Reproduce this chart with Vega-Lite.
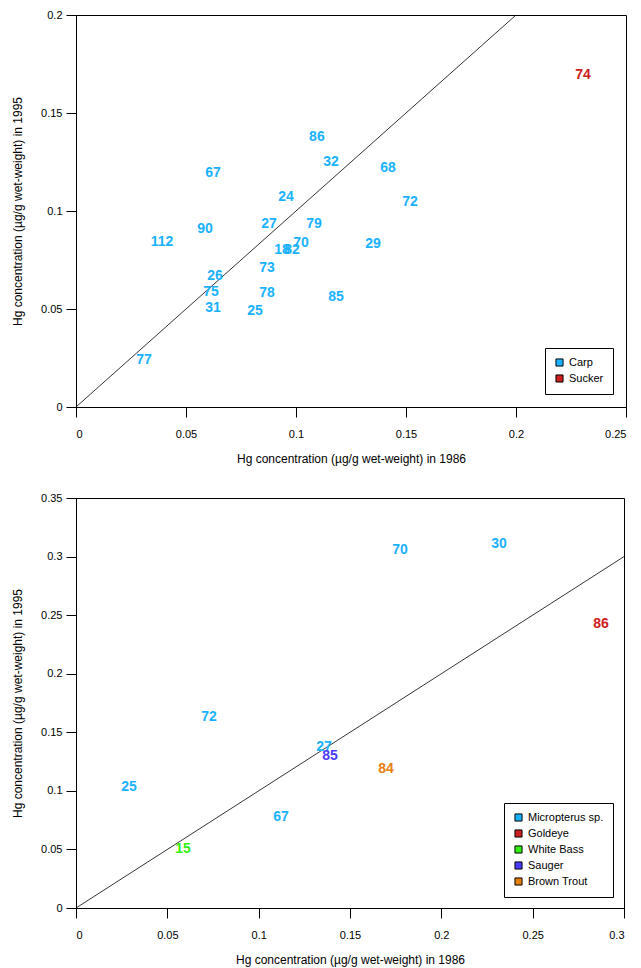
{
  "$schema": "https://vega.github.io/schema/vega-lite/v6.json",
  "background": "white",
  "padding": {"left": 11, "top": 8, "right": 5, "bottom": 5},
  "spacing": 26,
  "config": {
    "font": "Liberation Sans",
    "view": {"stroke": "black", "strokeWidth": 1},
    "axis": {
      "grid": false,
      "domainColor": "black",
      "tickColor": "black",
      "labelColor": "black",
      "titleColor": "black",
      "labelFont": "Liberation Sans",
      "titleFont": "Liberation Sans",
      "labelFontSize": 11,
      "titleFontSize": 12,
      "titleFontWeight": "normal",
      "tickSize": 10,
      "format": "~g"
    },
    "axisX": {"labelPadding": 11, "titlePadding": 14},
    "axisY": {"labelPadding": 4, "titlePadding": 16},
    "legend": {
      "strokeColor": "black",
      "padding": 9,
      "symbolType": "square",
      "symbolSize": 50,
      "symbolStrokeColor": "black",
      "symbolStrokeWidth": 1,
      "labelFont": "Liberation Sans",
      "labelFontSize": 11,
      "labelColor": "black",
      "rowPadding": 3,
      "fillColor": "white"
    }
  },
  "resolve": {"scale": {"color": "independent"}, "legend": {"color": "independent"}},
  "vconcat": [
    {
      "width": 550,
      "height": 392,
      "layer": [
        {
          "data": {"values": [{"x": 0, "y": 0}, {"x": 0.2, "y": 0.2}]},
          "mark": {"type": "line", "color": "black", "strokeWidth": 0.8},
          "encoding": {
            "x": {"field": "x", "type": "quantitative"},
            "y": {"field": "y", "type": "quantitative"}
          }
        },
        {
          "data": {"values": [
            {"id": "86", "species": "Carp", "hg1986": 0.1095, "hg1995": 0.1378},
            {"id": "32", "species": "Carp", "hg1986": 0.1159, "hg1995": 0.125},
            {"id": "68", "species": "Carp", "hg1986": 0.1418, "hg1995": 0.122},
            {"id": "67", "species": "Carp", "hg1986": 0.0623, "hg1995": 0.1194},
            {"id": "24", "species": "Carp", "hg1986": 0.0955, "hg1995": 0.107},
            {"id": "72", "species": "Carp", "hg1986": 0.1518, "hg1995": 0.1046},
            {"id": "27", "species": "Carp", "hg1986": 0.0877, "hg1995": 0.0934},
            {"id": "79", "species": "Carp", "hg1986": 0.1082, "hg1995": 0.0934},
            {"id": "90", "species": "Carp", "hg1986": 0.0586, "hg1995": 0.0908},
            {"id": "112", "species": "Carp", "hg1986": 0.0391, "hg1995": 0.0842},
            {"id": "70", "species": "Carp", "hg1986": 0.1023, "hg1995": 0.0837},
            {"id": "29", "species": "Carp", "hg1986": 0.135, "hg1995": 0.0832},
            {"id": "18", "species": "Carp", "hg1986": 0.0936, "hg1995": 0.0801},
            {"id": "82", "species": "Carp", "hg1986": 0.0982, "hg1995": 0.0801},
            {"id": "73", "species": "Carp", "hg1986": 0.0868, "hg1995": 0.0709},
            {"id": "26", "species": "Carp", "hg1986": 0.0632, "hg1995": 0.0668},
            {"id": "75", "species": "Carp", "hg1986": 0.0614, "hg1995": 0.0587},
            {"id": "78", "species": "Carp", "hg1986": 0.0868, "hg1995": 0.0582},
            {"id": "85", "species": "Carp", "hg1986": 0.1182, "hg1995": 0.0561},
            {"id": "31", "species": "Carp", "hg1986": 0.0623, "hg1995": 0.0505},
            {"id": "25", "species": "Carp", "hg1986": 0.0814, "hg1995": 0.049},
            {"id": "77", "species": "Carp", "hg1986": 0.0309, "hg1995": 0.024},
            {"id": "74", "species": "Sucker", "hg1986": 0.2305, "hg1995": 0.1694}
          ]},
          "mark": {"type": "text", "fontWeight": "bold", "fontSize": 14, "align": "center", "baseline": "middle"},
          "encoding": {
            "x": {"field": "hg1986", "type": "quantitative", "scale": {"domain": [0, 0.25], "nice": false},
                  "axis": {"values": [0, 0.05, 0.1, 0.15, 0.2, 0.25], "title": "Hg concentration (µg/g wet-weight) in 1986"}},
            "y": {"field": "hg1995", "type": "quantitative", "scale": {"domain": [0, 0.2], "nice": false},
                  "axis": {"values": [0, 0.05, 0.1, 0.15, 0.2], "title": "Hg concentration (µg/g wet-weight) in 1995"}},
            "text": {"field": "id", "type": "nominal"},
            "color": {"field": "species", "type": "nominal",
                      "scale": {"domain": ["Carp", "Sucker"], "range": ["#1AB2FF", "#CC2020"]},
                      "legend": {"title": null, "orient": "bottom-right", "offset": 13}}
          }
        }
      ]
    },
    {
      "width": 548,
      "height": 410,
      "layer": [
        {
          "data": {"values": [{"x": 0, "y": 0}, {"x": 0.3, "y": 0.3}]},
          "mark": {"type": "line", "color": "black", "strokeWidth": 0.8},
          "encoding": {
            "x": {"field": "x", "type": "quantitative"},
            "y": {"field": "y", "type": "quantitative"}
          }
        },
        {
          "data": {"values": [
            {"id": "70", "species": "Micropterus sp.", "hg1986": 0.1774, "hg1995": 0.3056},
            {"id": "30", "species": "Micropterus sp.", "hg1986": 0.2316, "hg1995": 0.3107},
            {"id": "72", "species": "Micropterus sp.", "hg1986": 0.0728, "hg1995": 0.163},
            {"id": "27", "species": "Micropterus sp.", "hg1986": 0.1358, "hg1995": 0.1374},
            {"id": "25", "species": "Micropterus sp.", "hg1986": 0.029, "hg1995": 0.1033},
            {"id": "67", "species": "Micropterus sp.", "hg1986": 0.1122, "hg1995": 0.0777},
            {"id": "86", "species": "Goldeye", "hg1986": 0.2874, "hg1995": 0.2424},
            {"id": "15", "species": "White Bass", "hg1986": 0.0586, "hg1995": 0.0504},
            {"id": "85", "species": "Sauger", "hg1986": 0.139, "hg1995": 0.1298},
            {"id": "84", "species": "Brown Trout", "hg1986": 0.1697, "hg1995": 0.1187}
          ]},
          "mark": {"type": "text", "fontWeight": "bold", "fontSize": 14, "align": "center", "baseline": "middle"},
          "encoding": {
            "x": {"field": "hg1986", "type": "quantitative", "scale": {"domain": [0, 0.3], "nice": false},
                  "axis": {"values": [0, 0.05, 0.1, 0.15, 0.2, 0.25, 0.3], "title": "Hg concentration (µg/g wet-weight) in 1986"}},
            "y": {"field": "hg1995", "type": "quantitative", "scale": {"domain": [0, 0.35], "nice": false},
                  "axis": {"values": [0, 0.05, 0.1, 0.15, 0.2, 0.25, 0.3, 0.35], "title": "Hg concentration (µg/g wet-weight) in 1995"}},
            "text": {"field": "id", "type": "nominal"},
            "color": {"field": "species", "type": "nominal",
                      "scale": {"domain": ["Micropterus sp.", "Goldeye", "White Bass", "Sauger", "Brown Trout"],
                                "range": ["#1AB2FF", "#CC2020", "#33EE11", "#4B3BFF", "#E6800F"]},
                      "legend": {"title": null, "orient": "bottom-right", "offset": 11}}
          }
        }
      ]
    }
  ]
}
